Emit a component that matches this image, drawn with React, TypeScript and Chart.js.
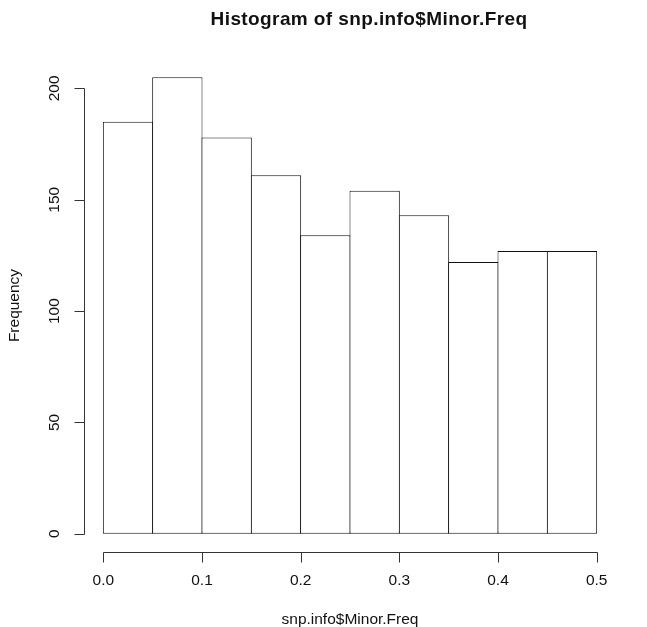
import { useEffect, useRef } from "react";
import { Chart, registerables } from "chart.js";

Chart.register(...registerables);

const binEdges = [0, 0.05, 0.1, 0.15, 0.2, 0.25, 0.3, 0.35, 0.4, 0.45, 0.5];
const frequencies = [185, 205, 178, 161, 134, 154, 143, 122, 127, 127];
const xTickValues = [0, 0.1, 0.2, 0.3, 0.4, 0.5];
const xTickLabels = ["0.0", "0.1", "0.2", "0.3", "0.4", "0.5"];
const yTickValues = [0, 50, 100, 150, 200];
const yTickLabels = ["0", "50", "100", "150", "200"];
const titleText = "Histogram of snp.info$Minor.Freq";
const xTitle = "snp.info$Minor.Freq";
const yTitle = "Frequency";

const FONT = '"Liberation Sans", Arial, Helvetica, sans-serif';

const rAxesPlugin = {
  id: "rAxes",
  afterDraw(chart: any) {
    const ctx = chart.ctx as CanvasRenderingContext2D;
    const xs = chart.scales.x;
    const ys = chart.scales.y;
    const area = chart.chartArea;
    ctx.save();
    ctx.strokeStyle = "#333";
    ctx.fillStyle = "#111";
    ctx.lineWidth = 1;

    // Y axis
    const ax = Math.round(area.left) + 0.5;
    const yTop = Math.round(ys.getPixelForValue(yTickValues[yTickValues.length - 1])) + 0.5;
    const yBot = Math.round(ys.getPixelForValue(yTickValues[0])) + 0.5;
    ctx.beginPath();
    ctx.moveTo(ax, yBot);
    ctx.lineTo(ax, yTop);
    yTickValues.forEach((v) => {
      const py = Math.round(ys.getPixelForValue(v)) + 0.5;
      ctx.moveTo(ax, py);
      ctx.lineTo(ax - 10, py);
    });
    ctx.stroke();
    ctx.font = `15.5px ${FONT}`;
    ctx.textAlign = "center";
    ctx.textBaseline = "middle";
    yTickValues.forEach((v, i) => {
      const py = ys.getPixelForValue(v);
      ctx.save();
      ctx.translate(55, py);
      ctx.rotate(-Math.PI / 2);
      ctx.fillText(yTickLabels[i], 0, 0);
      ctx.restore();
    });

    // X axis
    const ay = Math.round(area.bottom) + 0.5;
    const xL = Math.round(xs.getPixelForValue(xTickValues[0])) + 0.5;
    const xR = Math.round(xs.getPixelForValue(xTickValues[xTickValues.length - 1])) + 0.5;
    ctx.beginPath();
    ctx.moveTo(xL, ay);
    ctx.lineTo(xR, ay);
    xTickValues.forEach((v) => {
      const px = Math.round(xs.getPixelForValue(v)) + 0.5;
      ctx.moveTo(px, ay);
      ctx.lineTo(px, ay + 10);
    });
    ctx.stroke();
    xTickValues.forEach((v, i) => {
      ctx.fillText(xTickLabels[i], xs.getPixelForValue(v), 581);
    });

    // Axis titles
    ctx.fillText(xTitle, (area.left + area.right) / 2, 620);
    ctx.save();
    ctx.translate(15, (area.top + area.bottom) / 2);
    ctx.rotate(-Math.PI / 2);
    ctx.fillText(yTitle, 0, 0);
    ctx.restore();

    // Main title
    ctx.font = `bold 19px ${FONT}`;
    (ctx as any).letterSpacing = "0.4px";
    ctx.fillText(titleText, 369, 20);
    ctx.restore();
  },
};

export default function App() {
  const canvasRef = useRef<HTMLCanvasElement | null>(null);

  useEffect(() => {
    const canvas = canvasRef.current;
    if (!canvas) return;
    const data = frequencies.map((f, i) => ({
      x: (binEdges[i] + binEdges[i + 1]) / 2,
      y: f,
    }));
    const chart = new Chart(canvas, {
      type: "bar",
      data: {
        datasets: [
          {
            data,
            backgroundColor: "#ffffff",
            borderColor: "#111111",
            borderWidth: 1,
            borderSkipped: false,
            barPercentage: 1.02,
            categoryPercentage: 1,
          } as any,
        ],
      },
      options: {
        animation: false,
        responsive: false,
        maintainAspectRatio: false,
        layout: { padding: { left: 83.6, right: 30.6, top: 59, bottom: 75 } },
        plugins: {
          legend: { display: false },
          title: { display: false },
          tooltip: { enabled: false },
        },
        scales: {
          x: { type: "linear", min: -0.02, max: 0.52, offset: false, display: false },
          y: { type: "linear", min: -8.2, max: 213.2, display: false },
        },
      },
      plugins: [rAxesPlugin],
    });
    return () => chart.destroy();
  }, []);

  return (
    <div style={{ position: "fixed", left: 0, top: 0, width: 647, height: 627, background: "#fff" }}>
      <canvas ref={canvasRef} width={647} height={627} style={{ width: 647, height: 627 }} />
    </div>
  );
}
